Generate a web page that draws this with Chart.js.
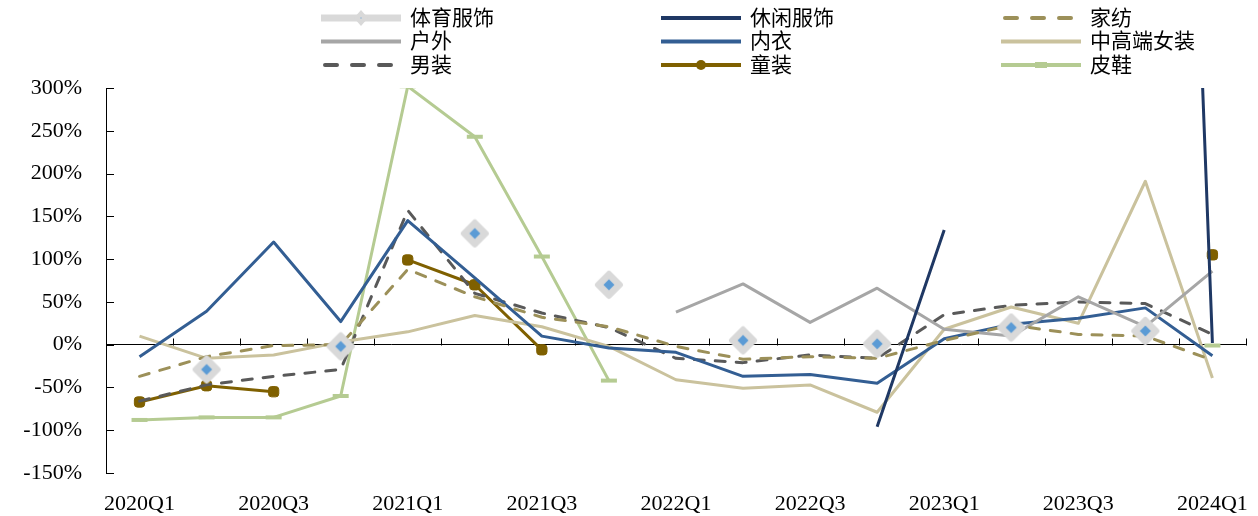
<!DOCTYPE html>
<html>
<head>
<meta charset="utf-8">
<script src="https://cdn.jsdelivr.net/npm/chart.js@4"></script>
<style>
  html, body { margin: 0; padding: 0; background: #fff; }
  #wrap { width: 1258px; height: 516px; position: relative; }
</style>
</head>
<body>
<div id="wrap"><canvas id="chart"></canvas></div>
<script>
// ---------------------------------------------------------------------------
// Data (quarterly growth, %)
// ---------------------------------------------------------------------------
const categories = ['2020Q1', '2020Q2', '2020Q3', '2020Q4', '2021Q1', '2021Q2', '2021Q3', '2021Q4',
  '2022Q1', '2022Q2', '2022Q3', '2022Q4', '2023Q1', '2023Q2', '2023Q3', '2023Q4', '2024Q1'];

const seriesNames = ['体育服饰', '休闲服饰', '家纺', '户外', '内衣', '中高端女装', '男装', '童装', '皮鞋'];

const sportswear = [null, -29, null, -2, null, 130, null, 70, null, 5, null, 1, null, 20, null, 16, null];
const casualwear = [null, null, null, null, null, null, null, null, null, null, null, -96, 134, null, null, 2050, 2];
const homeTextile = [-37, -14, -1, 0, 88, 56, 32, 21, -2, -17, -14, -16, 5, 23, 12, 10, -18];
const outdoor = [null, null, null, null, null, null, null, null, 38, 71, 26, 66, 18, 10, 56, 21, 86];
const underwear = [-14, 39, 120, 27, 145, 78, 10, -4, -9, -37, -35, -45, 7, 24, 31, 43, -13];
const womenswear = [10, -16, -12, 3, 15, 34, 21, -2, -41, -51, -47, -79, 18, 44, 25, 191, -39];
const menswear = [-66, -47, -37, -29, 157, 60, 37, 20, -16, -21, -12, -16, 35, 46, 50, 48, 12];
const kidswear = [-67, -48, -55, null, 99, 70, -6, null, null, null, null, null, null, null, null, null, 105];
const footwear = [-88, -85, -85, -60, 302, 243, 103, -42, null, null, null, null, null, null, null, null, -1];

const yTicks = [-150, -100, -50, 0, 50, 100, 150, 200, 250, 300];

// ---------------------------------------------------------------------------
const FONT = "'Liberation Serif', 'Times New Roman', 'Noto Sans CJK SC', serif";

// grey rounded diamond with a small blue diamond inside (体育服饰 marker)
function makeDiamond() {
  const c = document.createElement('canvas');
  c.width = 30; c.height = 30;
  const g = c.getContext('2d');
  g.fillStyle = '#D9D9D9';
  g.strokeStyle = '#D9D9D9';
  g.lineWidth = 6;
  g.lineJoin = 'round';
  g.beginPath();
  g.moveTo(15, 4); g.lineTo(26, 15); g.lineTo(15, 26); g.lineTo(4, 15);
  g.closePath(); g.fill(); g.stroke();
  g.fillStyle = '#5B9BD5';
  g.beginPath();
  g.moveTo(15, 9.5); g.lineTo(20.5, 15); g.lineTo(15, 20.5); g.lineTo(9.5, 15);
  g.closePath(); g.fill();
  return c;
}

const lineBase = {
  fill: false,
  tension: 0,
  spanGaps: false,
  borderWidth: 3,
  pointRadius: 0,
  pointHoverRadius: 0,
  borderJoinStyle: 'round'
};

const datasets = [
  Object.assign({}, lineBase, {
    label: seriesNames[0], data: sportswear, borderColor: '#D9D9D9', borderWidth: 6,
    pointStyle: makeDiamond(), pointRadius: 14, legendKind: 'diamond'
  }),
  Object.assign({}, lineBase, { label: seriesNames[1], data: casualwear, borderColor: '#1F3864' }),
  Object.assign({}, lineBase, {
    label: seriesNames[2], data: homeTextile, borderColor: '#9C9059',
    borderDash: [10, 11], borderCapStyle: 'round'
  }),
  Object.assign({}, lineBase, { label: seriesNames[3], data: outdoor, borderColor: '#A6A6A6' }),
  Object.assign({}, lineBase, { label: seriesNames[4], data: underwear, borderColor: '#335E93' }),
  Object.assign({}, lineBase, { label: seriesNames[5], data: womenswear, borderColor: '#CAC29D' }),
  Object.assign({}, lineBase, {
    label: seriesNames[6], data: menswear, borderColor: '#595959',
    borderDash: [10, 11], borderCapStyle: 'round'
  }),
  Object.assign({}, lineBase, {
    label: seriesNames[7], data: kidswear, borderColor: '#7F6000',
    pointStyle: 'rectRounded', pointRadius: 6, pointBackgroundColor: '#7F6000',
    pointBorderColor: '#7F6000', pointBorderWidth: 1, legendKind: 'dot'
  }),
  Object.assign({}, lineBase, {
    label: seriesNames[8], data: footwear, borderColor: '#B5CB92',
    pointStyle: 'line', pointRadius: 8, pointBorderWidth: 4,
    pointBorderColor: '#B5CB92', legendKind: 'bar'
  })
];

// small tick marks: upward on the zero line at category boundaries, inward on the y axis
const axisTicks = {
  id: 'axisTicks',
  beforeDatasetsDraw(chart) {
    const { ctx, chartArea, scales } = chart;
    const x = scales.x, y = scales.y;
    const y0 = Math.round(y.getPixelForValue(0)) + 0.5;
    ctx.save();
    ctx.strokeStyle = '#000';
    ctx.lineWidth = 1;
    ctx.beginPath();
    for (let i = 1; i <= categories.length; i++) {
      const px = Math.round(x.left + (x.width * i) / categories.length) + 0.5;
      ctx.moveTo(px, y0 - 7);
      ctx.lineTo(px, y0);
    }
    y.ticks.forEach(t => {
      const py = Math.round(y.getPixelForValue(t.value)) + 0.5;
      ctx.moveTo(chartArea.left, py);
      ctx.lineTo(chartArea.left + 8, py);
    });
    ctx.stroke();
    ctx.restore();
  }
};

// three-column legend above the plot
const gridLegend = {
  id: 'gridLegend',
  afterDraw(chart) {
    const ctx = chart.ctx;
    ctx.save();
    chart.data.datasets.forEach((ds, i) => {
      const col = i % 3, row = Math.floor(i / 3);
      const x0 = 321 + col * 340;
      const yy = 18 + row * 23.5;
      const len = 80;
      ctx.beginPath();
      ctx.strokeStyle = ds.borderColor;
      ctx.lineWidth = ds.legendKind === 'diamond' ? 7 : 4;
      ctx.lineCap = ds.borderDash ? 'round' : 'butt';
      ctx.setLineDash(ds.borderDash ? [12, 15] : []);
      ctx.moveTo(x0 + (ds.borderDash ? 4 : 0), yy);
      ctx.lineTo(x0 + len, yy);
      ctx.stroke();
      ctx.setLineDash([]);
      const cx = x0 + len / 2;
      if (ds.legendKind === 'diamond') {
        ctx.fillStyle = '#D9D9D9';
        ctx.beginPath();
        ctx.moveTo(cx, yy - 8); ctx.lineTo(cx + 7, yy); ctx.lineTo(cx, yy + 8); ctx.lineTo(cx - 7, yy);
        ctx.closePath(); ctx.fill();
        ctx.fillStyle = '#5B9BD5';
        ctx.fillRect(cx - 0.5, yy - 0.5, 1, 1);
      } else if (ds.legendKind === 'dot') {
        ctx.fillStyle = ds.borderColor;
        ctx.beginPath();
        ctx.arc(cx, yy, 5, 0, Math.PI * 2);
        ctx.fill();
      } else if (ds.legendKind === 'bar') {
        ctx.fillStyle = ds.borderColor;
        ctx.fillRect(cx - 6, yy - 3, 12, 6);
      }
      ctx.fillStyle = '#000';
      ctx.font = '21px ' + FONT;
      ctx.textBaseline = 'middle';
      ctx.textAlign = 'left';
      ctx.fillText(ds.label, x0 + 89, yy + 1);
    });
    ctx.restore();
  }
};

new Chart(document.getElementById('chart'), {
  type: 'line',
  data: { labels: categories, datasets: datasets },
  plugins: [axisTicks, gridLegend],
  options: {
    responsive: true,
    maintainAspectRatio: false,
    devicePixelRatio: 1,
    animation: false,
    events: [],
    layout: { autoPadding: false, padding: { top: 88, right: 5, left: 0, bottom: 0 } },
    plugins: {
      legend: { display: false },
      tooltip: { enabled: false }
    },
    scales: {
      x: {
        offset: true,
        grid: { display: false },
        border: { display: false },
        ticks: {
          autoSkip: false,
          maxRotation: 0,
          padding: 10,
          color: '#000',
          font: { family: FONT, size: 22 },
          callback: function(v, i) { return i % 2 === 0 ? categories[i] : ''; }
        },
        afterFit: function(s) { s.height = 43; }
      },
      y: {
        min: yTicks[0],
        max: yTicks[yTicks.length - 1],
        afterBuildTicks: function(s) { s.ticks = yTicks.map(v => ({ value: v })); },
        grid: {
          drawTicks: false,
          color: c => (c.tick && c.tick.value === 0 ? '#000' : 'rgba(0,0,0,0)'),
          lineWidth: 1
        },
        border: { display: true, color: '#000', width: 1 },
        ticks: {
          padding: 24,
          color: '#000',
          font: { family: FONT, size: 22 },
          callback: v => v + '%'
        },
        afterFit: function(s) { s.width = 106; }
      }
    }
  }
});
</script>
</body>
</html>
